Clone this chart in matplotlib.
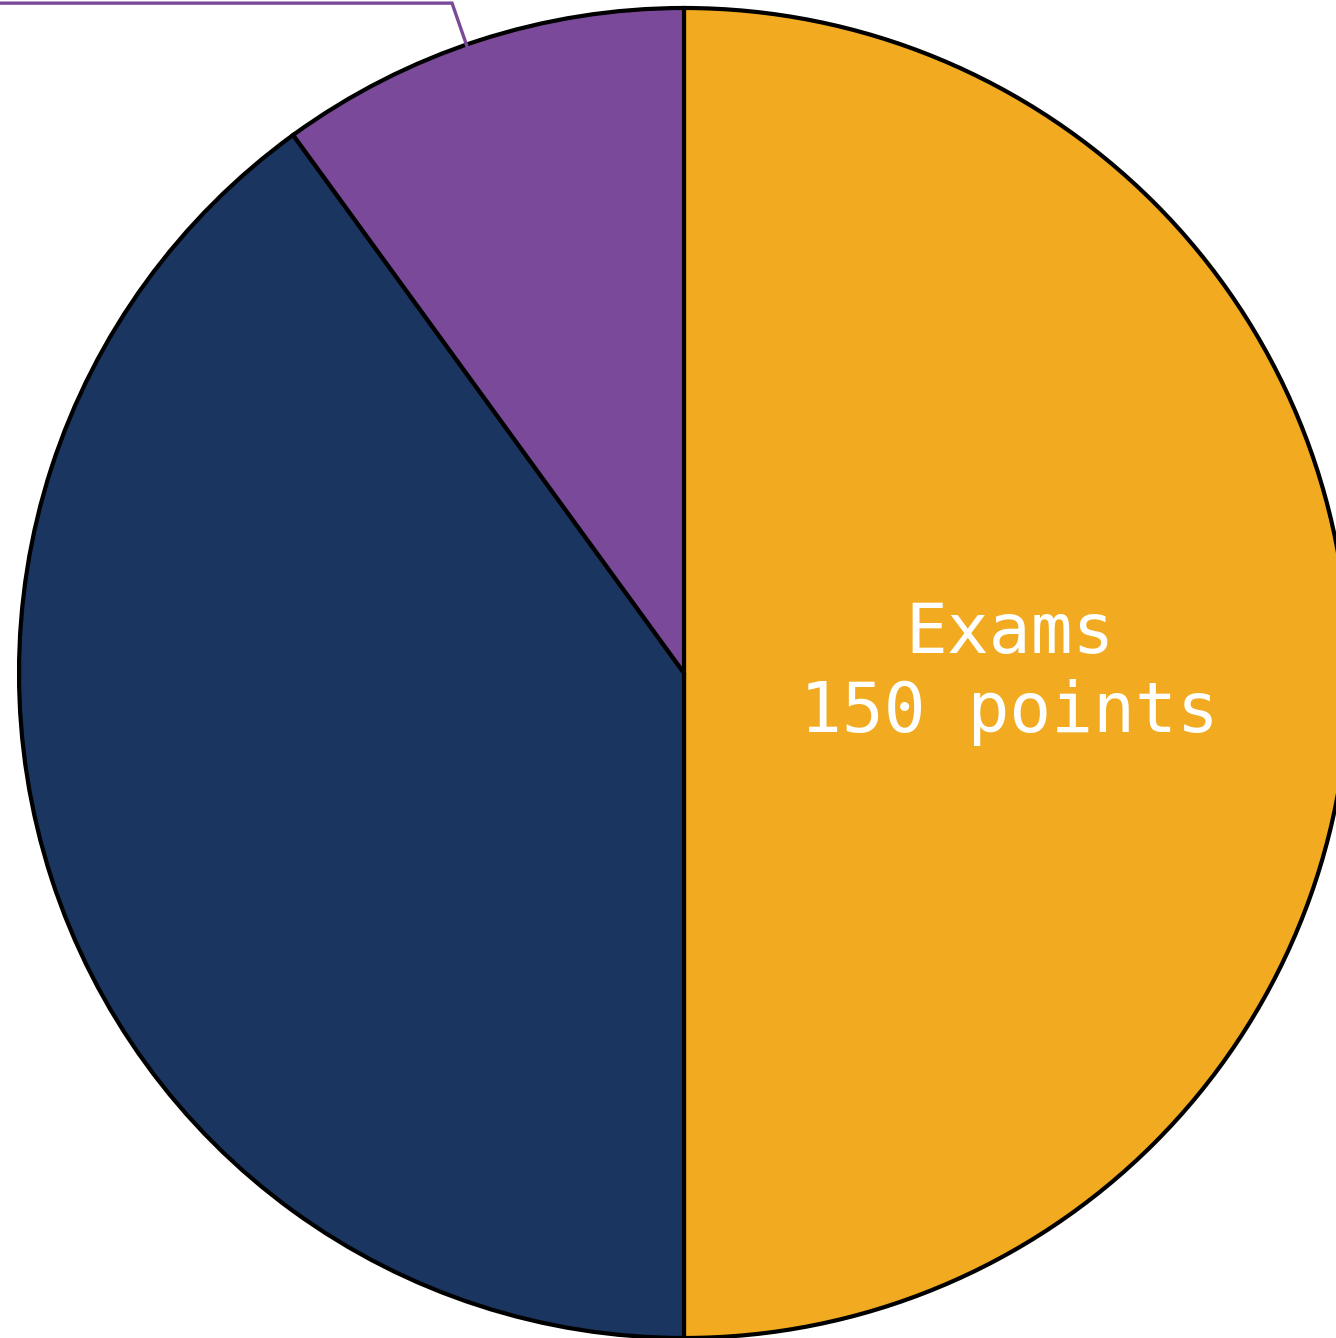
import numpy as np
import matplotlib.pyplot as plt

# ============================================================================
# DATA
# ============================================================================
categories = ['Exams', 'Projects', 'Participation']
points = [150, 120, 30]
slice_colors = ['#F2AB20', '#1A355F', '#7A4999']
shown_labels = {'Exams': 'Exams\n150 points'}

# ============================================================================
# PLOT
# ============================================================================
W, H = 1336, 1338
fig = plt.figure(figsize=(W / 100, H / 100), dpi=100)
ax = fig.add_axes([0, 0, 1, 1])

cx, cy, r = 684, 665, 665
wedges, _ = ax.pie(points, colors=slice_colors, startangle=90, counterclock=False,
                   center=(cx, cy), radius=r,
                   wedgeprops=dict(edgecolor='black', linewidth=3))

for w, cat, val in zip(wedges, categories, points):
    mid = np.deg2rad((w.theta1 + w.theta2) / 2)
    if cat in shown_labels:
        ax.text(cx + 0.49 * r * np.cos(mid), cy + 0.49 * r * np.sin(mid),
                shown_labels[cat], ha='center', va='center', color='white',
                fontsize=50, family='DejaVu Sans Mono', linespacing=1.22)

# leader line for the small slice (label sits outside the frame)
small = wedges[2]
mid = np.deg2rad((small.theta1 + small.theta2) / 2 + 1.1)
x0, y0 = cx + 0.995 * r * np.cos(mid), cy + 0.995 * r * np.sin(mid)
x1, y1 = cx + 1.066 * r * np.cos(mid), cy + 1.066 * r * np.sin(mid)
ax.plot([x0, x1, -200], [y0, y1, y1], color=slice_colors[2], linewidth=2.4,
        solid_joinstyle='miter', zorder=3)

ax.set_xlim(0, W)
ax.set_ylim(0, H)
ax.set_aspect('equal')
ax.axis('off')

fig.savefig('out.png', dpi=100)
